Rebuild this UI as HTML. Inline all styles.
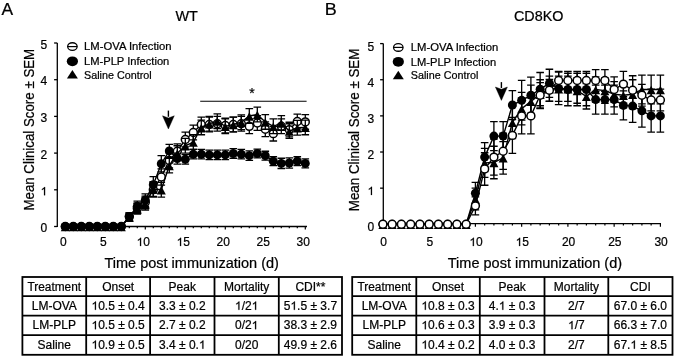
<!DOCTYPE html>
<html><head><meta charset="utf-8"><style>
html,body{margin:0;padding:0;background:#fff;width:675px;height:358px;overflow:hidden}
svg{display:block;will-change:transform;filter:blur(0.3px)}
text{stroke:#000;stroke-width:0.22px}
text{fill:#000}
.h{fill-opacity:0;stroke-opacity:0}
</style></head><body>
<svg width="675" height="358" viewBox="0 0 675 358" font-family='"Liberation Sans", sans-serif'>
<rect width="675" height="358" fill="#fff"/>
<text x="1.5" y="14.7" font-size="16" text-anchor="start" textLength="11.6" lengthAdjust="spacingAndGlyphs">A</text>
<text x="324.8" y="14.8" font-size="16" text-anchor="start" textLength="12.0" lengthAdjust="spacingAndGlyphs">B</text>
<text x="175.4" y="21.2" font-size="14" text-anchor="start" textLength="22.4" lengthAdjust="spacingAndGlyphs">WT</text>
<text x="514.0" y="21.3" font-size="14" text-anchor="start" textLength="49.4" lengthAdjust="spacingAndGlyphs">CD8KO</text>
<text transform="translate(33.6 210.6) rotate(-90)" font-size="14" textLength="161.8" lengthAdjust="spacingAndGlyphs">Mean Clinical Score ± SEM</text>
<text transform="translate(359.4 211.2) rotate(-90)" font-size="14" textLength="162.6" lengthAdjust="spacingAndGlyphs">Mean Clinical Score ± SEM</text>
<text x="104.4" y="268.0" font-size="14" text-anchor="start" textLength="174.5" lengthAdjust="spacingAndGlyphs">Time post immunization (d)</text>
<text x="447.8" y="268.0" font-size="14" text-anchor="start" textLength="174.3" lengthAdjust="spacingAndGlyphs">Time post immunization (d)</text>
<path d="M57.3 43.0V227.1" stroke="#000" stroke-width="1.3" fill="none"/>
<path d="M54.099999999999994 226.50H57.3" stroke="#000" stroke-width="1.3"/>
<text x="47.3" y="232.00" font-size="12" text-anchor="end">0</text>
<path d="M54.099999999999994 189.80H57.3" stroke="#000" stroke-width="1.3"/>
<text x="47.3" y="195.30" font-size="12" text-anchor="end"><tspan class="h">1</tspan></text>
<path d="M54.099999999999994 153.10H57.3" stroke="#000" stroke-width="1.3"/>
<text x="47.3" y="158.60" font-size="12" text-anchor="end">2</text>
<path d="M54.099999999999994 116.40H57.3" stroke="#000" stroke-width="1.3"/>
<text x="47.3" y="121.90" font-size="12" text-anchor="end">3</text>
<path d="M54.099999999999994 79.70H57.3" stroke="#000" stroke-width="1.3"/>
<text x="47.3" y="85.20" font-size="12" text-anchor="end">4</text>
<path d="M54.099999999999994 43.00H57.3" stroke="#000" stroke-width="1.3"/>
<text x="47.3" y="48.50" font-size="12" text-anchor="end">5</text>
<path d="M61.0 226.50H307.0" stroke="#000" stroke-width="1.3" fill="none"/>
<path d="M65.30 226.50V229.50" stroke="#000" stroke-width="1.2"/>
<text x="63.30" y="246.0" font-size="12" text-anchor="middle">0</text>
<path d="M73.30 226.50V228.30" stroke="#000" stroke-width="1.2"/>
<path d="M81.30 226.50V228.30" stroke="#000" stroke-width="1.2"/>
<path d="M89.30 226.50V228.30" stroke="#000" stroke-width="1.2"/>
<path d="M97.30 226.50V228.30" stroke="#000" stroke-width="1.2"/>
<path d="M105.30 226.50V229.50" stroke="#000" stroke-width="1.2"/>
<text x="103.30" y="246.0" font-size="12" text-anchor="middle">5</text>
<path d="M113.30 226.50V228.30" stroke="#000" stroke-width="1.2"/>
<path d="M121.30 226.50V228.30" stroke="#000" stroke-width="1.2"/>
<path d="M129.30 226.50V228.30" stroke="#000" stroke-width="1.2"/>
<path d="M137.30 226.50V228.30" stroke="#000" stroke-width="1.2"/>
<path d="M145.30 226.50V229.50" stroke="#000" stroke-width="1.2"/>
<text x="143.30" y="246.0" font-size="12" text-anchor="middle"><tspan class="h">1</tspan>0</text>
<path d="M153.30 226.50V228.30" stroke="#000" stroke-width="1.2"/>
<path d="M161.30 226.50V228.30" stroke="#000" stroke-width="1.2"/>
<path d="M169.30 226.50V228.30" stroke="#000" stroke-width="1.2"/>
<path d="M177.30 226.50V228.30" stroke="#000" stroke-width="1.2"/>
<path d="M185.30 226.50V229.50" stroke="#000" stroke-width="1.2"/>
<text x="183.30" y="246.0" font-size="12" text-anchor="middle"><tspan class="h">1</tspan>5</text>
<path d="M193.30 226.50V228.30" stroke="#000" stroke-width="1.2"/>
<path d="M201.30 226.50V228.30" stroke="#000" stroke-width="1.2"/>
<path d="M209.30 226.50V228.30" stroke="#000" stroke-width="1.2"/>
<path d="M217.30 226.50V228.30" stroke="#000" stroke-width="1.2"/>
<path d="M225.30 226.50V229.50" stroke="#000" stroke-width="1.2"/>
<text x="223.30" y="246.0" font-size="12" text-anchor="middle">20</text>
<path d="M233.30 226.50V228.30" stroke="#000" stroke-width="1.2"/>
<path d="M241.30 226.50V228.30" stroke="#000" stroke-width="1.2"/>
<path d="M249.30 226.50V228.30" stroke="#000" stroke-width="1.2"/>
<path d="M257.30 226.50V228.30" stroke="#000" stroke-width="1.2"/>
<path d="M265.30 226.50V229.50" stroke="#000" stroke-width="1.2"/>
<text x="263.30" y="246.0" font-size="12" text-anchor="middle">25</text>
<path d="M273.30 226.50V228.30" stroke="#000" stroke-width="1.2"/>
<path d="M281.30 226.50V228.30" stroke="#000" stroke-width="1.2"/>
<path d="M289.30 226.50V228.30" stroke="#000" stroke-width="1.2"/>
<path d="M297.30 226.50V228.30" stroke="#000" stroke-width="1.2"/>
<path d="M305.30 226.50V229.50" stroke="#000" stroke-width="1.2"/>
<text x="303.30" y="246.0" font-size="12" text-anchor="middle">30</text>
<polyline fill="none" stroke="#000" stroke-width="1.4" points="65.30,226.50 73.30,226.50 81.30,226.50 89.30,226.50 97.30,226.50 105.30,226.50 113.30,226.50 121.30,226.50 129.30,216.59 137.30,208.15 145.30,202.28 153.30,189.80 161.30,176.95 169.30,160.44 177.30,151.26 185.30,139.52 193.30,132.55 201.30,124.47 209.30,124.47 217.30,123.74 225.30,125.57 233.30,124.47 241.30,123.74 249.30,126.31 257.30,123.01 265.30,129.25 273.30,133.65 281.30,126.31 289.30,129.61 297.30,121.54 305.30,121.90"/>
<path d="M129.30 212.92V220.26M125.50 212.92H133.10M125.50 220.26H133.10" stroke="#000" stroke-width="1.3" fill="none"/>
<path d="M137.30 203.01V213.29M133.50 203.01H141.10M133.50 213.29H141.10" stroke="#000" stroke-width="1.3" fill="none"/>
<path d="M145.30 196.04V208.52M141.50 196.04H149.10M141.50 208.52H149.10" stroke="#000" stroke-width="1.3" fill="none"/>
<path d="M153.30 182.46V197.14M149.50 182.46H157.10M149.50 197.14H157.10" stroke="#000" stroke-width="1.3" fill="none"/>
<path d="M161.30 168.88V185.03M157.50 168.88H165.10M157.50 185.03H165.10" stroke="#000" stroke-width="1.3" fill="none"/>
<path d="M169.30 153.10V167.78M165.50 153.10H173.10M165.50 167.78H173.10" stroke="#000" stroke-width="1.3" fill="none"/>
<path d="M177.30 143.93V158.61M173.50 143.93H181.10M173.50 158.61H181.10" stroke="#000" stroke-width="1.3" fill="none"/>
<path d="M185.30 132.18V146.86M181.50 132.18H189.10M181.50 146.86H189.10" stroke="#000" stroke-width="1.3" fill="none"/>
<path d="M193.30 125.21V139.89M189.50 125.21H197.10M189.50 139.89H197.10" stroke="#000" stroke-width="1.3" fill="none"/>
<path d="M201.30 117.13V131.81M197.50 117.13H205.10M197.50 131.81H205.10" stroke="#000" stroke-width="1.3" fill="none"/>
<path d="M209.30 117.13V131.81M205.50 117.13H213.10M205.50 131.81H213.10" stroke="#000" stroke-width="1.3" fill="none"/>
<path d="M217.30 116.40V131.08M213.50 116.40H221.10M213.50 131.08H221.10" stroke="#000" stroke-width="1.3" fill="none"/>
<path d="M225.30 118.23V132.92M221.50 118.23H229.10M221.50 132.92H229.10" stroke="#000" stroke-width="1.3" fill="none"/>
<path d="M233.30 117.13V131.81M229.50 117.13H237.10M229.50 131.81H237.10" stroke="#000" stroke-width="1.3" fill="none"/>
<path d="M241.30 116.40V131.08M237.50 116.40H245.10M237.50 131.08H245.10" stroke="#000" stroke-width="1.3" fill="none"/>
<path d="M249.30 118.97V133.65M245.50 118.97H253.10M245.50 133.65H253.10" stroke="#000" stroke-width="1.3" fill="none"/>
<path d="M257.30 115.67V130.35M253.50 115.67H261.10M253.50 130.35H261.10" stroke="#000" stroke-width="1.3" fill="none"/>
<path d="M265.30 121.90V136.59M261.50 121.90H269.10M261.50 136.59H269.10" stroke="#000" stroke-width="1.3" fill="none"/>
<path d="M273.30 126.31V140.99M269.50 126.31H277.10M269.50 140.99H277.10" stroke="#000" stroke-width="1.3" fill="none"/>
<path d="M281.30 118.97V133.65M277.50 118.97H285.10M277.50 133.65H285.10" stroke="#000" stroke-width="1.3" fill="none"/>
<path d="M289.30 122.27V136.95M285.50 122.27H293.10M285.50 136.95H293.10" stroke="#000" stroke-width="1.3" fill="none"/>
<path d="M297.30 114.20V128.88M293.50 114.20H301.10M293.50 128.88H301.10" stroke="#000" stroke-width="1.3" fill="none"/>
<path d="M305.30 114.56V129.25M301.50 114.56H309.10M301.50 129.25H309.10" stroke="#000" stroke-width="1.3" fill="none"/>
<circle cx="65.30" cy="226.50" r="3.95" fill="#fff" stroke="#000" stroke-width="1.5"/>
<circle cx="73.30" cy="226.50" r="3.95" fill="#fff" stroke="#000" stroke-width="1.5"/>
<circle cx="81.30" cy="226.50" r="3.95" fill="#fff" stroke="#000" stroke-width="1.5"/>
<circle cx="89.30" cy="226.50" r="3.95" fill="#fff" stroke="#000" stroke-width="1.5"/>
<circle cx="97.30" cy="226.50" r="3.95" fill="#fff" stroke="#000" stroke-width="1.5"/>
<circle cx="105.30" cy="226.50" r="3.95" fill="#fff" stroke="#000" stroke-width="1.5"/>
<circle cx="113.30" cy="226.50" r="3.95" fill="#fff" stroke="#000" stroke-width="1.5"/>
<circle cx="121.30" cy="226.50" r="3.95" fill="#fff" stroke="#000" stroke-width="1.5"/>
<circle cx="129.30" cy="216.59" r="3.95" fill="#fff" stroke="#000" stroke-width="1.5"/>
<circle cx="137.30" cy="208.15" r="3.95" fill="#fff" stroke="#000" stroke-width="1.5"/>
<circle cx="145.30" cy="202.28" r="3.95" fill="#fff" stroke="#000" stroke-width="1.5"/>
<circle cx="153.30" cy="189.80" r="3.95" fill="#fff" stroke="#000" stroke-width="1.5"/>
<circle cx="161.30" cy="176.95" r="3.95" fill="#fff" stroke="#000" stroke-width="1.5"/>
<circle cx="169.30" cy="160.44" r="3.95" fill="#fff" stroke="#000" stroke-width="1.5"/>
<circle cx="177.30" cy="151.26" r="3.95" fill="#fff" stroke="#000" stroke-width="1.5"/>
<circle cx="185.30" cy="139.52" r="3.95" fill="#fff" stroke="#000" stroke-width="1.5"/>
<circle cx="193.30" cy="132.55" r="3.95" fill="#fff" stroke="#000" stroke-width="1.5"/>
<circle cx="201.30" cy="124.47" r="3.95" fill="#fff" stroke="#000" stroke-width="1.5"/>
<circle cx="209.30" cy="124.47" r="3.95" fill="#fff" stroke="#000" stroke-width="1.5"/>
<circle cx="217.30" cy="123.74" r="3.95" fill="#fff" stroke="#000" stroke-width="1.5"/>
<circle cx="225.30" cy="125.57" r="3.95" fill="#fff" stroke="#000" stroke-width="1.5"/>
<circle cx="233.30" cy="124.47" r="3.95" fill="#fff" stroke="#000" stroke-width="1.5"/>
<circle cx="241.30" cy="123.74" r="3.95" fill="#fff" stroke="#000" stroke-width="1.5"/>
<circle cx="249.30" cy="126.31" r="3.95" fill="#fff" stroke="#000" stroke-width="1.5"/>
<circle cx="257.30" cy="123.01" r="3.95" fill="#fff" stroke="#000" stroke-width="1.5"/>
<circle cx="265.30" cy="129.25" r="3.95" fill="#fff" stroke="#000" stroke-width="1.5"/>
<circle cx="273.30" cy="133.65" r="3.95" fill="#fff" stroke="#000" stroke-width="1.5"/>
<circle cx="281.30" cy="126.31" r="3.95" fill="#fff" stroke="#000" stroke-width="1.5"/>
<circle cx="289.30" cy="129.61" r="3.95" fill="#fff" stroke="#000" stroke-width="1.5"/>
<circle cx="297.30" cy="121.54" r="3.95" fill="#fff" stroke="#000" stroke-width="1.5"/>
<circle cx="305.30" cy="121.90" r="3.95" fill="#fff" stroke="#000" stroke-width="1.5"/>
<polyline fill="none" stroke="#000" stroke-width="1.4" points="65.30,226.50 73.30,226.50 81.30,226.50 89.30,226.50 97.30,226.50 105.30,226.50 113.30,226.50 121.30,226.50 129.30,217.32 137.30,208.88 145.30,203.75 153.30,189.07 161.30,189.80 169.30,165.58 177.30,153.10 185.30,145.76 193.30,142.09 201.30,127.41 209.30,123.74 217.30,121.17 225.30,126.31 233.30,124.47 241.30,122.27 249.30,116.03 257.30,114.56 265.30,121.90 273.30,126.31 281.30,123.01 289.30,131.08 297.30,127.78 305.30,127.41"/>
<path d="M129.30 213.66V221.00M125.50 213.66H133.10M125.50 221.00H133.10" stroke="#000" stroke-width="1.3" fill="none"/>
<path d="M137.30 203.75V214.02M133.50 203.75H141.10M133.50 214.02H141.10" stroke="#000" stroke-width="1.3" fill="none"/>
<path d="M145.30 197.51V209.99M141.50 197.51H149.10M141.50 209.99H149.10" stroke="#000" stroke-width="1.3" fill="none"/>
<path d="M153.30 181.73V196.41M149.50 181.73H157.10M149.50 196.41H157.10" stroke="#000" stroke-width="1.3" fill="none"/>
<path d="M161.30 182.46V197.14M157.50 182.46H165.10M157.50 197.14H165.10" stroke="#000" stroke-width="1.3" fill="none"/>
<path d="M169.30 158.24V172.92M165.50 158.24H173.10M165.50 172.92H173.10" stroke="#000" stroke-width="1.3" fill="none"/>
<path d="M177.30 145.76V160.44M173.50 145.76H181.10M173.50 160.44H181.10" stroke="#000" stroke-width="1.3" fill="none"/>
<path d="M185.30 138.42V153.10M181.50 138.42H189.10M181.50 153.10H189.10" stroke="#000" stroke-width="1.3" fill="none"/>
<path d="M193.30 134.75V149.43M189.50 134.75H197.10M189.50 149.43H197.10" stroke="#000" stroke-width="1.3" fill="none"/>
<path d="M201.30 120.07V134.75M197.50 120.07H205.10M197.50 134.75H205.10" stroke="#000" stroke-width="1.3" fill="none"/>
<path d="M209.30 116.40V131.08M205.50 116.40H213.10M205.50 131.08H213.10" stroke="#000" stroke-width="1.3" fill="none"/>
<path d="M217.30 113.83V128.51M213.50 113.83H221.10M213.50 128.51H221.10" stroke="#000" stroke-width="1.3" fill="none"/>
<path d="M225.30 118.97V133.65M221.50 118.97H229.10M221.50 133.65H229.10" stroke="#000" stroke-width="1.3" fill="none"/>
<path d="M233.30 117.13V131.81M229.50 117.13H237.10M229.50 131.81H237.10" stroke="#000" stroke-width="1.3" fill="none"/>
<path d="M241.30 114.93V129.61M237.50 114.93H245.10M237.50 129.61H245.10" stroke="#000" stroke-width="1.3" fill="none"/>
<path d="M249.30 108.69V123.37M245.50 108.69H253.10M245.50 123.37H253.10" stroke="#000" stroke-width="1.3" fill="none"/>
<path d="M257.30 107.22V121.91M253.50 107.22H261.10M253.50 121.91H261.10" stroke="#000" stroke-width="1.3" fill="none"/>
<path d="M265.30 114.56V129.25M261.50 114.56H269.10M261.50 129.25H269.10" stroke="#000" stroke-width="1.3" fill="none"/>
<path d="M273.30 118.97V133.65M269.50 118.97H277.10M269.50 133.65H277.10" stroke="#000" stroke-width="1.3" fill="none"/>
<path d="M281.30 115.67V130.35M277.50 115.67H285.10M277.50 130.35H285.10" stroke="#000" stroke-width="1.3" fill="none"/>
<path d="M289.30 123.74V138.42M285.50 123.74H293.10M285.50 138.42H293.10" stroke="#000" stroke-width="1.3" fill="none"/>
<path d="M297.30 120.44V135.12M293.50 120.44H301.10M293.50 135.12H301.10" stroke="#000" stroke-width="1.3" fill="none"/>
<path d="M305.30 120.07V134.75M301.50 120.07H309.10M301.50 134.75H309.10" stroke="#000" stroke-width="1.3" fill="none"/>
<path d="M65.30 222.80L69.80 231.20L60.80 231.20Z" fill="#000"/>
<path d="M73.30 222.80L77.80 231.20L68.80 231.20Z" fill="#000"/>
<path d="M81.30 222.80L85.80 231.20L76.80 231.20Z" fill="#000"/>
<path d="M89.30 222.80L93.80 231.20L84.80 231.20Z" fill="#000"/>
<path d="M97.30 222.80L101.80 231.20L92.80 231.20Z" fill="#000"/>
<path d="M105.30 222.80L109.80 231.20L100.80 231.20Z" fill="#000"/>
<path d="M113.30 222.80L117.80 231.20L108.80 231.20Z" fill="#000"/>
<path d="M121.30 222.80L125.80 231.20L116.80 231.20Z" fill="#000"/>
<path d="M129.30 213.62L133.80 222.02L124.80 222.02Z" fill="#000"/>
<path d="M137.30 205.18L141.80 213.58L132.80 213.58Z" fill="#000"/>
<path d="M145.30 200.05L149.80 208.45L140.80 208.45Z" fill="#000"/>
<path d="M153.30 185.37L157.80 193.77L148.80 193.77Z" fill="#000"/>
<path d="M161.30 186.10L165.80 194.50L156.80 194.50Z" fill="#000"/>
<path d="M169.30 161.88L173.80 170.28L164.80 170.28Z" fill="#000"/>
<path d="M177.30 149.40L181.80 157.80L172.80 157.80Z" fill="#000"/>
<path d="M185.30 142.06L189.80 150.46L180.80 150.46Z" fill="#000"/>
<path d="M193.30 138.39L197.80 146.79L188.80 146.79Z" fill="#000"/>
<path d="M201.30 123.71L205.80 132.11L196.80 132.11Z" fill="#000"/>
<path d="M209.30 120.04L213.80 128.44L204.80 128.44Z" fill="#000"/>
<path d="M217.30 117.47L221.80 125.87L212.80 125.87Z" fill="#000"/>
<path d="M225.30 122.61L229.80 131.01L220.80 131.01Z" fill="#000"/>
<path d="M233.30 120.77L237.80 129.17L228.80 129.17Z" fill="#000"/>
<path d="M241.30 118.57L245.80 126.97L236.80 126.97Z" fill="#000"/>
<path d="M249.30 112.33L253.80 120.73L244.80 120.73Z" fill="#000"/>
<path d="M257.30 110.86L261.80 119.27L252.80 119.27Z" fill="#000"/>
<path d="M265.30 118.20L269.80 126.60L260.80 126.60Z" fill="#000"/>
<path d="M273.30 122.61L277.80 131.01L268.80 131.01Z" fill="#000"/>
<path d="M281.30 119.31L285.80 127.71L276.80 127.71Z" fill="#000"/>
<path d="M289.30 127.38L293.80 135.78L284.80 135.78Z" fill="#000"/>
<path d="M297.30 124.08L301.80 132.48L292.80 132.48Z" fill="#000"/>
<path d="M305.30 123.71L309.80 132.11L300.80 132.11Z" fill="#000"/>
<polyline fill="none" stroke="#000" stroke-width="1.4" points="65.30,226.50 73.30,226.50 81.30,226.50 89.30,226.50 97.30,226.50 105.30,226.50 113.30,226.50 121.30,226.50 129.30,216.59 137.30,206.31 145.30,200.08 153.30,184.66 161.30,163.74 169.30,150.90 177.30,158.60 185.30,159.34 193.30,154.20 201.30,154.20 209.30,154.94 217.30,154.94 225.30,154.94 233.30,153.47 241.30,154.20 249.30,155.67 257.30,153.47 265.30,155.67 273.30,161.17 281.30,163.38 289.30,163.01 297.30,161.17 305.30,163.38"/>
<path d="M129.30 212.92V220.26M125.50 212.92H133.10M125.50 220.26H133.10" stroke="#000" stroke-width="1.3" fill="none"/>
<path d="M137.30 201.18V211.45M133.50 201.18H141.10M133.50 211.45H141.10" stroke="#000" stroke-width="1.3" fill="none"/>
<path d="M145.30 193.84V206.31M141.50 193.84H149.10M141.50 206.31H149.10" stroke="#000" stroke-width="1.3" fill="none"/>
<path d="M153.30 176.59V192.74M149.50 176.59H157.10M149.50 192.74H157.10" stroke="#000" stroke-width="1.3" fill="none"/>
<path d="M161.30 155.67V171.82M157.50 155.67H165.10M157.50 171.82H165.10" stroke="#000" stroke-width="1.3" fill="none"/>
<path d="M169.30 144.29V157.50M165.50 144.29H173.10M165.50 157.50H173.10" stroke="#000" stroke-width="1.3" fill="none"/>
<path d="M177.30 153.10V164.11M173.50 153.10H181.10M173.50 164.11H181.10" stroke="#000" stroke-width="1.3" fill="none"/>
<path d="M185.30 154.57V164.11M181.50 154.57H189.10M181.50 164.11H189.10" stroke="#000" stroke-width="1.3" fill="none"/>
<path d="M193.30 149.43V158.97M189.50 149.43H197.10M189.50 158.97H197.10" stroke="#000" stroke-width="1.3" fill="none"/>
<path d="M201.30 149.43V158.97M197.50 149.43H205.10M197.50 158.97H205.10" stroke="#000" stroke-width="1.3" fill="none"/>
<path d="M209.30 150.16V159.71M205.50 150.16H213.10M205.50 159.71H213.10" stroke="#000" stroke-width="1.3" fill="none"/>
<path d="M217.30 150.16V159.71M213.50 150.16H221.10M213.50 159.71H221.10" stroke="#000" stroke-width="1.3" fill="none"/>
<path d="M225.30 150.16V159.71M221.50 150.16H229.10M221.50 159.71H229.10" stroke="#000" stroke-width="1.3" fill="none"/>
<path d="M233.30 148.70V158.24M229.50 148.70H237.10M229.50 158.24H237.10" stroke="#000" stroke-width="1.3" fill="none"/>
<path d="M241.30 149.43V158.97M237.50 149.43H245.10M237.50 158.97H245.10" stroke="#000" stroke-width="1.3" fill="none"/>
<path d="M249.30 150.90V160.44M245.50 150.90H253.10M245.50 160.44H253.10" stroke="#000" stroke-width="1.3" fill="none"/>
<path d="M257.30 149.06V157.87M253.50 149.06H261.10M253.50 157.87H261.10" stroke="#000" stroke-width="1.3" fill="none"/>
<path d="M265.30 151.26V160.07M261.50 151.26H269.10M261.50 160.07H269.10" stroke="#000" stroke-width="1.3" fill="none"/>
<path d="M273.30 156.77V165.58M269.50 156.77H277.10M269.50 165.58H277.10" stroke="#000" stroke-width="1.3" fill="none"/>
<path d="M281.30 158.24V168.51M277.50 158.24H285.10M277.50 168.51H285.10" stroke="#000" stroke-width="1.3" fill="none"/>
<path d="M289.30 157.87V168.15M285.50 157.87H293.10M285.50 168.15H293.10" stroke="#000" stroke-width="1.3" fill="none"/>
<path d="M297.30 156.77V165.58M293.50 156.77H301.10M293.50 165.58H301.10" stroke="#000" stroke-width="1.3" fill="none"/>
<path d="M305.30 158.97V167.78M301.50 158.97H309.10M301.50 167.78H309.10" stroke="#000" stroke-width="1.3" fill="none"/>
<circle cx="65.30" cy="226.50" r="4.50" fill="#000"/>
<circle cx="73.30" cy="226.50" r="4.50" fill="#000"/>
<circle cx="81.30" cy="226.50" r="4.50" fill="#000"/>
<circle cx="89.30" cy="226.50" r="4.50" fill="#000"/>
<circle cx="97.30" cy="226.50" r="4.50" fill="#000"/>
<circle cx="105.30" cy="226.50" r="4.50" fill="#000"/>
<circle cx="113.30" cy="226.50" r="4.50" fill="#000"/>
<circle cx="121.30" cy="226.50" r="4.50" fill="#000"/>
<circle cx="129.30" cy="216.59" r="4.50" fill="#000"/>
<circle cx="137.30" cy="206.31" r="4.50" fill="#000"/>
<circle cx="145.30" cy="200.08" r="4.50" fill="#000"/>
<circle cx="153.30" cy="184.66" r="4.50" fill="#000"/>
<circle cx="161.30" cy="163.74" r="4.50" fill="#000"/>
<circle cx="169.30" cy="150.90" r="4.50" fill="#000"/>
<circle cx="177.30" cy="158.60" r="4.50" fill="#000"/>
<circle cx="185.30" cy="159.34" r="4.50" fill="#000"/>
<circle cx="193.30" cy="154.20" r="4.50" fill="#000"/>
<circle cx="201.30" cy="154.20" r="4.50" fill="#000"/>
<circle cx="209.30" cy="154.94" r="4.50" fill="#000"/>
<circle cx="217.30" cy="154.94" r="4.50" fill="#000"/>
<circle cx="225.30" cy="154.94" r="4.50" fill="#000"/>
<circle cx="233.30" cy="153.47" r="4.50" fill="#000"/>
<circle cx="241.30" cy="154.20" r="4.50" fill="#000"/>
<circle cx="249.30" cy="155.67" r="4.50" fill="#000"/>
<circle cx="257.30" cy="153.47" r="4.50" fill="#000"/>
<circle cx="265.30" cy="155.67" r="4.50" fill="#000"/>
<circle cx="273.30" cy="161.17" r="4.50" fill="#000"/>
<circle cx="281.30" cy="163.38" r="4.50" fill="#000"/>
<circle cx="289.30" cy="163.01" r="4.50" fill="#000"/>
<circle cx="297.30" cy="161.17" r="4.50" fill="#000"/>
<circle cx="305.30" cy="163.38" r="4.50" fill="#000"/>
<path d="M383.3 43.6V224.9" stroke="#000" stroke-width="1.3" fill="none"/>
<path d="M380.1 224.30H383.3" stroke="#000" stroke-width="1.3"/>
<text x="374.2" y="231.00" font-size="12" text-anchor="end">0</text>
<path d="M380.1 188.16H383.3" stroke="#000" stroke-width="1.3"/>
<text x="374.2" y="195.02" font-size="12" text-anchor="end"><tspan class="h">1</tspan></text>
<path d="M380.1 152.02H383.3" stroke="#000" stroke-width="1.3"/>
<text x="374.2" y="159.04" font-size="12" text-anchor="end">2</text>
<path d="M380.1 115.88H383.3" stroke="#000" stroke-width="1.3"/>
<text x="374.2" y="123.06" font-size="12" text-anchor="end">3</text>
<path d="M380.1 79.74H383.3" stroke="#000" stroke-width="1.3"/>
<text x="374.2" y="87.08" font-size="12" text-anchor="end">4</text>
<path d="M380.1 43.60H383.3" stroke="#000" stroke-width="1.3"/>
<text x="374.2" y="51.10" font-size="12" text-anchor="end">5</text>
<path d="M383.0 223.70H661.0" stroke="#000" stroke-width="1.3" fill="none"/>
<path d="M382.90 223.70V226.70" stroke="#000" stroke-width="1.2"/>
<text x="383.60" y="246.0" font-size="12" text-anchor="middle">0</text>
<path d="M392.15 223.70V225.50" stroke="#000" stroke-width="1.2"/>
<path d="M401.40 223.70V225.50" stroke="#000" stroke-width="1.2"/>
<path d="M410.65 223.70V225.50" stroke="#000" stroke-width="1.2"/>
<path d="M419.90 223.70V225.50" stroke="#000" stroke-width="1.2"/>
<path d="M429.15 223.70V226.70" stroke="#000" stroke-width="1.2"/>
<text x="429.85" y="246.0" font-size="12" text-anchor="middle">5</text>
<path d="M438.40 223.70V225.50" stroke="#000" stroke-width="1.2"/>
<path d="M447.65 223.70V225.50" stroke="#000" stroke-width="1.2"/>
<path d="M456.90 223.70V225.50" stroke="#000" stroke-width="1.2"/>
<path d="M466.15 223.70V225.50" stroke="#000" stroke-width="1.2"/>
<path d="M475.40 223.70V226.70" stroke="#000" stroke-width="1.2"/>
<text x="476.10" y="246.0" font-size="12" text-anchor="middle"><tspan class="h">1</tspan>0</text>
<path d="M484.65 223.70V225.50" stroke="#000" stroke-width="1.2"/>
<path d="M493.90 223.70V225.50" stroke="#000" stroke-width="1.2"/>
<path d="M503.15 223.70V225.50" stroke="#000" stroke-width="1.2"/>
<path d="M512.40 223.70V225.50" stroke="#000" stroke-width="1.2"/>
<path d="M521.65 223.70V226.70" stroke="#000" stroke-width="1.2"/>
<text x="522.35" y="246.0" font-size="12" text-anchor="middle"><tspan class="h">1</tspan>5</text>
<path d="M530.90 223.70V225.50" stroke="#000" stroke-width="1.2"/>
<path d="M540.15 223.70V225.50" stroke="#000" stroke-width="1.2"/>
<path d="M549.40 223.70V225.50" stroke="#000" stroke-width="1.2"/>
<path d="M558.65 223.70V225.50" stroke="#000" stroke-width="1.2"/>
<path d="M567.90 223.70V226.70" stroke="#000" stroke-width="1.2"/>
<text x="568.60" y="246.0" font-size="12" text-anchor="middle">20</text>
<path d="M577.15 223.70V225.50" stroke="#000" stroke-width="1.2"/>
<path d="M586.40 223.70V225.50" stroke="#000" stroke-width="1.2"/>
<path d="M595.65 223.70V225.50" stroke="#000" stroke-width="1.2"/>
<path d="M604.90 223.70V225.50" stroke="#000" stroke-width="1.2"/>
<path d="M614.15 223.70V226.70" stroke="#000" stroke-width="1.2"/>
<text x="614.85" y="246.0" font-size="12" text-anchor="middle">25</text>
<path d="M623.40 223.70V225.50" stroke="#000" stroke-width="1.2"/>
<path d="M632.65 223.70V225.50" stroke="#000" stroke-width="1.2"/>
<path d="M641.90 223.70V225.50" stroke="#000" stroke-width="1.2"/>
<path d="M651.15 223.70V225.50" stroke="#000" stroke-width="1.2"/>
<path d="M660.40 223.70V226.70" stroke="#000" stroke-width="1.2"/>
<text x="661.10" y="246.0" font-size="12" text-anchor="middle">30</text>
<polyline fill="none" stroke="#000" stroke-width="1.4" points="382.90,224.30 392.15,224.30 401.40,224.30 410.65,224.30 419.90,224.30 429.15,224.30 438.40,224.30 447.65,224.30 456.90,224.30 466.15,224.30 475.40,199.00 484.65,162.86 493.90,162.50 503.15,157.80 512.40,122.39 521.65,108.65 530.90,101.42 540.15,94.20 549.40,88.78 558.65,88.78 567.90,88.78 577.15,90.58 586.40,96.36 595.65,89.50 604.90,90.58 614.15,94.20 623.40,95.28 632.65,94.20 641.90,89.50 651.15,89.50 660.40,89.50"/>
<path d="M475.40 188.16V209.84M471.60 188.16H479.20M471.60 209.84H479.20" stroke="#000" stroke-width="1.3" fill="none"/>
<path d="M484.65 148.41V177.32M480.85 148.41H488.45M480.85 177.32H488.45" stroke="#000" stroke-width="1.3" fill="none"/>
<path d="M493.90 146.24V178.76M490.10 146.24H497.70M490.10 178.76H497.70" stroke="#000" stroke-width="1.3" fill="none"/>
<path d="M503.15 141.54V174.07M499.35 141.54H506.95M499.35 174.07H506.95" stroke="#000" stroke-width="1.3" fill="none"/>
<path d="M512.40 106.12V138.65M508.60 106.12H516.20M508.60 138.65H516.20" stroke="#000" stroke-width="1.3" fill="none"/>
<path d="M521.65 92.39V124.92M517.85 92.39H525.45M517.85 124.92H525.45" stroke="#000" stroke-width="1.3" fill="none"/>
<path d="M530.90 85.16V117.69M527.10 85.16H534.70M527.10 117.69H534.70" stroke="#000" stroke-width="1.3" fill="none"/>
<path d="M540.15 79.74V108.65M536.35 79.74H543.95M536.35 108.65H543.95" stroke="#000" stroke-width="1.3" fill="none"/>
<path d="M549.40 76.13V101.42M545.60 76.13H553.20M545.60 101.42H553.20" stroke="#000" stroke-width="1.3" fill="none"/>
<path d="M558.65 76.13V101.42M554.85 76.13H562.45M554.85 101.42H562.45" stroke="#000" stroke-width="1.3" fill="none"/>
<path d="M567.90 76.13V101.42M564.10 76.13H571.70M564.10 101.42H571.70" stroke="#000" stroke-width="1.3" fill="none"/>
<path d="M577.15 77.93V103.23M573.35 77.93H580.95M573.35 103.23H580.95" stroke="#000" stroke-width="1.3" fill="none"/>
<path d="M586.40 83.72V109.01M582.60 83.72H590.20M582.60 109.01H590.20" stroke="#000" stroke-width="1.3" fill="none"/>
<path d="M595.65 76.85V102.15M591.85 76.85H599.45M591.85 102.15H599.45" stroke="#000" stroke-width="1.3" fill="none"/>
<path d="M604.90 77.93V103.23M601.10 77.93H608.70M601.10 103.23H608.70" stroke="#000" stroke-width="1.3" fill="none"/>
<path d="M614.15 81.55V106.85M610.35 81.55H617.95M610.35 106.85H617.95" stroke="#000" stroke-width="1.3" fill="none"/>
<path d="M623.40 82.63V107.93M619.60 82.63H627.20M619.60 107.93H627.20" stroke="#000" stroke-width="1.3" fill="none"/>
<path d="M632.65 79.74V108.65M628.85 79.74H636.45M628.85 108.65H636.45" stroke="#000" stroke-width="1.3" fill="none"/>
<path d="M641.90 75.04V103.95M638.10 75.04H645.70M638.10 103.95H645.70" stroke="#000" stroke-width="1.3" fill="none"/>
<path d="M651.15 75.04V103.95M647.35 75.04H654.95M647.35 103.95H654.95" stroke="#000" stroke-width="1.3" fill="none"/>
<path d="M660.40 75.04V103.95M656.60 75.04H664.20M656.60 103.95H664.20" stroke="#000" stroke-width="1.3" fill="none"/>
<path d="M382.90 220.60L387.40 229.00L378.40 229.00Z" fill="#000"/>
<path d="M392.15 220.60L396.65 229.00L387.65 229.00Z" fill="#000"/>
<path d="M401.40 220.60L405.90 229.00L396.90 229.00Z" fill="#000"/>
<path d="M410.65 220.60L415.15 229.00L406.15 229.00Z" fill="#000"/>
<path d="M419.90 220.60L424.40 229.00L415.40 229.00Z" fill="#000"/>
<path d="M429.15 220.60L433.65 229.00L424.65 229.00Z" fill="#000"/>
<path d="M438.40 220.60L442.90 229.00L433.90 229.00Z" fill="#000"/>
<path d="M447.65 220.60L452.15 229.00L443.15 229.00Z" fill="#000"/>
<path d="M456.90 220.60L461.40 229.00L452.40 229.00Z" fill="#000"/>
<path d="M466.15 220.60L470.65 229.00L461.65 229.00Z" fill="#000"/>
<path d="M475.40 195.30L479.90 203.70L470.90 203.70Z" fill="#000"/>
<path d="M484.65 159.16L489.15 167.56L480.15 167.56Z" fill="#000"/>
<path d="M493.90 158.80L498.40 167.20L489.40 167.20Z" fill="#000"/>
<path d="M503.15 154.10L507.65 162.50L498.65 162.50Z" fill="#000"/>
<path d="M512.40 118.69L516.90 127.09L507.90 127.09Z" fill="#000"/>
<path d="M521.65 104.95L526.15 113.35L517.15 113.35Z" fill="#000"/>
<path d="M530.90 97.72L535.40 106.12L526.40 106.12Z" fill="#000"/>
<path d="M540.15 90.50L544.65 98.90L535.65 98.90Z" fill="#000"/>
<path d="M549.40 85.08L553.90 93.48L544.90 93.48Z" fill="#000"/>
<path d="M558.65 85.08L563.15 93.48L554.15 93.48Z" fill="#000"/>
<path d="M567.90 85.08L572.40 93.48L563.40 93.48Z" fill="#000"/>
<path d="M577.15 86.88L581.65 95.28L572.65 95.28Z" fill="#000"/>
<path d="M586.40 92.66L590.90 101.06L581.90 101.06Z" fill="#000"/>
<path d="M595.65 85.80L600.15 94.20L591.15 94.20Z" fill="#000"/>
<path d="M604.90 86.88L609.40 95.28L600.40 95.28Z" fill="#000"/>
<path d="M614.15 90.50L618.65 98.90L609.65 98.90Z" fill="#000"/>
<path d="M623.40 91.58L627.90 99.98L618.90 99.98Z" fill="#000"/>
<path d="M632.65 90.50L637.15 98.90L628.15 98.90Z" fill="#000"/>
<path d="M641.90 85.80L646.40 94.20L637.40 94.20Z" fill="#000"/>
<path d="M651.15 85.80L655.65 94.20L646.65 94.20Z" fill="#000"/>
<path d="M660.40 85.80L664.90 94.20L655.90 94.20Z" fill="#000"/>
<polyline fill="none" stroke="#000" stroke-width="1.4" points="382.90,224.30 392.15,224.30 401.40,224.30 410.65,224.30 419.90,224.30 429.15,224.30 438.40,224.30 447.65,224.30 456.90,224.30 466.15,224.30 475.40,193.22 484.65,157.08 493.90,136.12 503.15,136.12 512.40,105.04 521.65,100.34 530.90,95.28 540.15,89.14 549.40,83.35 558.65,88.41 567.90,89.50 577.15,89.50 586.40,89.50 595.65,99.62 604.90,99.62 614.15,99.62 623.40,105.40 632.65,106.12 641.90,110.82 651.15,115.88 660.40,115.88"/>
<path d="M475.40 182.38V204.06M471.60 182.38H479.20M471.60 204.06H479.20" stroke="#000" stroke-width="1.3" fill="none"/>
<path d="M484.65 142.62V171.54M480.85 142.62H488.45M480.85 171.54H488.45" stroke="#000" stroke-width="1.3" fill="none"/>
<path d="M493.90 121.66V150.57M490.10 121.66H497.70M490.10 150.57H497.70" stroke="#000" stroke-width="1.3" fill="none"/>
<path d="M503.15 121.66V150.57M499.35 121.66H506.95M499.35 150.57H506.95" stroke="#000" stroke-width="1.3" fill="none"/>
<path d="M512.40 90.58V119.49M508.60 90.58H516.20M508.60 119.49H516.20" stroke="#000" stroke-width="1.3" fill="none"/>
<path d="M521.65 80.46V120.22M517.85 80.46H525.45M517.85 120.22H525.45" stroke="#000" stroke-width="1.3" fill="none"/>
<path d="M530.90 77.21V113.35M527.10 77.21H534.70M527.10 113.35H534.70" stroke="#000" stroke-width="1.3" fill="none"/>
<path d="M540.15 72.51V105.76M536.35 72.51H543.95M536.35 105.76H543.95" stroke="#000" stroke-width="1.3" fill="none"/>
<path d="M549.40 69.26V97.45M545.60 69.26H553.20M545.60 97.45H553.20" stroke="#000" stroke-width="1.3" fill="none"/>
<path d="M558.65 72.15V104.68M554.85 72.15H562.45M554.85 104.68H562.45" stroke="#000" stroke-width="1.3" fill="none"/>
<path d="M567.90 73.23V105.76M564.10 73.23H571.70M564.10 105.76H571.70" stroke="#000" stroke-width="1.3" fill="none"/>
<path d="M577.15 73.23V105.76M573.35 73.23H580.95M573.35 105.76H580.95" stroke="#000" stroke-width="1.3" fill="none"/>
<path d="M586.40 73.23V105.76M582.60 73.23H590.20M582.60 105.76H590.20" stroke="#000" stroke-width="1.3" fill="none"/>
<path d="M595.65 85.16V114.07M591.85 85.16H599.45M591.85 114.07H599.45" stroke="#000" stroke-width="1.3" fill="none"/>
<path d="M604.90 85.16V114.07M601.10 85.16H608.70M601.10 114.07H608.70" stroke="#000" stroke-width="1.3" fill="none"/>
<path d="M614.15 85.16V114.07M610.35 85.16H617.95M610.35 114.07H617.95" stroke="#000" stroke-width="1.3" fill="none"/>
<path d="M623.40 90.94V119.86M619.60 90.94H627.20M619.60 119.86H627.20" stroke="#000" stroke-width="1.3" fill="none"/>
<path d="M632.65 89.86V122.39M628.85 89.86H636.45M628.85 122.39H636.45" stroke="#000" stroke-width="1.3" fill="none"/>
<path d="M641.90 94.56V127.08M638.10 94.56H645.70M638.10 127.08H645.70" stroke="#000" stroke-width="1.3" fill="none"/>
<path d="M651.15 99.62V132.14M647.35 99.62H654.95M647.35 132.14H654.95" stroke="#000" stroke-width="1.3" fill="none"/>
<path d="M660.40 99.62V132.14M656.60 99.62H664.20M656.60 132.14H664.20" stroke="#000" stroke-width="1.3" fill="none"/>
<circle cx="382.90" cy="224.30" r="4.50" fill="#000"/>
<circle cx="392.15" cy="224.30" r="4.50" fill="#000"/>
<circle cx="401.40" cy="224.30" r="4.50" fill="#000"/>
<circle cx="410.65" cy="224.30" r="4.50" fill="#000"/>
<circle cx="419.90" cy="224.30" r="4.50" fill="#000"/>
<circle cx="429.15" cy="224.30" r="4.50" fill="#000"/>
<circle cx="438.40" cy="224.30" r="4.50" fill="#000"/>
<circle cx="447.65" cy="224.30" r="4.50" fill="#000"/>
<circle cx="456.90" cy="224.30" r="4.50" fill="#000"/>
<circle cx="466.15" cy="224.30" r="4.50" fill="#000"/>
<circle cx="475.40" cy="193.22" r="4.50" fill="#000"/>
<circle cx="484.65" cy="157.08" r="4.50" fill="#000"/>
<circle cx="493.90" cy="136.12" r="4.50" fill="#000"/>
<circle cx="503.15" cy="136.12" r="4.50" fill="#000"/>
<circle cx="512.40" cy="105.04" r="4.50" fill="#000"/>
<circle cx="521.65" cy="100.34" r="4.50" fill="#000"/>
<circle cx="530.90" cy="95.28" r="4.50" fill="#000"/>
<circle cx="540.15" cy="89.14" r="4.50" fill="#000"/>
<circle cx="549.40" cy="83.35" r="4.50" fill="#000"/>
<circle cx="558.65" cy="88.41" r="4.50" fill="#000"/>
<circle cx="567.90" cy="89.50" r="4.50" fill="#000"/>
<circle cx="577.15" cy="89.50" r="4.50" fill="#000"/>
<circle cx="586.40" cy="89.50" r="4.50" fill="#000"/>
<circle cx="595.65" cy="99.62" r="4.50" fill="#000"/>
<circle cx="604.90" cy="99.62" r="4.50" fill="#000"/>
<circle cx="614.15" cy="99.62" r="4.50" fill="#000"/>
<circle cx="623.40" cy="105.40" r="4.50" fill="#000"/>
<circle cx="632.65" cy="106.12" r="4.50" fill="#000"/>
<circle cx="641.90" cy="110.82" r="4.50" fill="#000"/>
<circle cx="651.15" cy="115.88" r="4.50" fill="#000"/>
<circle cx="660.40" cy="115.88" r="4.50" fill="#000"/>
<polyline fill="none" stroke="#000" stroke-width="1.4" points="382.90,224.30 392.15,224.30 401.40,224.30 410.65,224.30 419.90,224.30 429.15,224.30 438.40,224.30 447.65,224.30 456.90,224.30 466.15,224.30 475.40,205.87 484.65,169.01 493.90,157.08 503.15,151.30 512.40,135.40 521.65,115.88 530.90,115.88 540.15,95.28 549.40,90.22 558.65,80.46 567.90,80.46 577.15,80.46 586.40,80.46 595.65,80.46 604.90,80.46 614.15,89.50 623.40,84.08 632.65,90.22 641.90,95.28 651.15,99.98 660.40,99.98"/>
<path d="M475.40 196.83V214.90M471.60 196.83H479.20M471.60 214.90H479.20" stroke="#000" stroke-width="1.3" fill="none"/>
<path d="M484.65 152.74V185.27M480.85 152.74H488.45M480.85 185.27H488.45" stroke="#000" stroke-width="1.3" fill="none"/>
<path d="M493.90 139.01V175.15M490.10 139.01H497.70M490.10 175.15H497.70" stroke="#000" stroke-width="1.3" fill="none"/>
<path d="M503.15 133.23V169.37M499.35 133.23H506.95M499.35 169.37H506.95" stroke="#000" stroke-width="1.3" fill="none"/>
<path d="M512.40 117.33V153.47M508.60 117.33H516.20M508.60 153.47H516.20" stroke="#000" stroke-width="1.3" fill="none"/>
<path d="M521.65 97.81V133.95M517.85 97.81H525.45M517.85 133.95H525.45" stroke="#000" stroke-width="1.3" fill="none"/>
<path d="M530.90 97.81V133.95M527.10 97.81H534.70M527.10 133.95H534.70" stroke="#000" stroke-width="1.3" fill="none"/>
<path d="M540.15 82.63V107.93M536.35 82.63H543.95M536.35 107.93H543.95" stroke="#000" stroke-width="1.3" fill="none"/>
<path d="M549.40 79.38V101.06M545.60 79.38H553.20M545.60 101.06H553.20" stroke="#000" stroke-width="1.3" fill="none"/>
<path d="M558.65 71.43V89.50M554.85 71.43H562.45M554.85 89.50H562.45" stroke="#000" stroke-width="1.3" fill="none"/>
<path d="M567.90 71.43V89.50M564.10 71.43H571.70M564.10 89.50H571.70" stroke="#000" stroke-width="1.3" fill="none"/>
<path d="M577.15 71.43V89.50M573.35 71.43H580.95M573.35 89.50H580.95" stroke="#000" stroke-width="1.3" fill="none"/>
<path d="M586.40 71.43V89.50M582.60 71.43H590.20M582.60 89.50H590.20" stroke="#000" stroke-width="1.3" fill="none"/>
<path d="M595.65 69.62V91.30M591.85 69.62H599.45M591.85 91.30H599.45" stroke="#000" stroke-width="1.3" fill="none"/>
<path d="M604.90 69.62V91.30M601.10 69.62H608.70M601.10 91.30H608.70" stroke="#000" stroke-width="1.3" fill="none"/>
<path d="M614.15 76.85V102.15M610.35 76.85H617.95M610.35 102.15H617.95" stroke="#000" stroke-width="1.3" fill="none"/>
<path d="M623.40 71.43V96.73M619.60 71.43H627.20M619.60 96.73H627.20" stroke="#000" stroke-width="1.3" fill="none"/>
<path d="M632.65 75.76V104.68M628.85 75.76H636.45M628.85 104.68H636.45" stroke="#000" stroke-width="1.3" fill="none"/>
<path d="M641.90 84.44V106.12M638.10 84.44H645.70M638.10 106.12H645.70" stroke="#000" stroke-width="1.3" fill="none"/>
<path d="M651.15 89.14V110.82M647.35 89.14H654.95M647.35 110.82H654.95" stroke="#000" stroke-width="1.3" fill="none"/>
<path d="M660.40 89.14V110.82M656.60 89.14H664.20M656.60 110.82H664.20" stroke="#000" stroke-width="1.3" fill="none"/>
<circle cx="382.90" cy="224.30" r="3.95" fill="#fff" stroke="#000" stroke-width="1.5"/>
<circle cx="392.15" cy="224.30" r="3.95" fill="#fff" stroke="#000" stroke-width="1.5"/>
<circle cx="401.40" cy="224.30" r="3.95" fill="#fff" stroke="#000" stroke-width="1.5"/>
<circle cx="410.65" cy="224.30" r="3.95" fill="#fff" stroke="#000" stroke-width="1.5"/>
<circle cx="419.90" cy="224.30" r="3.95" fill="#fff" stroke="#000" stroke-width="1.5"/>
<circle cx="429.15" cy="224.30" r="3.95" fill="#fff" stroke="#000" stroke-width="1.5"/>
<circle cx="438.40" cy="224.30" r="3.95" fill="#fff" stroke="#000" stroke-width="1.5"/>
<circle cx="447.65" cy="224.30" r="3.95" fill="#fff" stroke="#000" stroke-width="1.5"/>
<circle cx="456.90" cy="224.30" r="3.95" fill="#fff" stroke="#000" stroke-width="1.5"/>
<circle cx="466.15" cy="224.30" r="3.95" fill="#fff" stroke="#000" stroke-width="1.5"/>
<circle cx="475.40" cy="205.87" r="3.95" fill="#fff" stroke="#000" stroke-width="1.5"/>
<circle cx="484.65" cy="169.01" r="3.95" fill="#fff" stroke="#000" stroke-width="1.5"/>
<circle cx="493.90" cy="157.08" r="3.95" fill="#fff" stroke="#000" stroke-width="1.5"/>
<circle cx="503.15" cy="151.30" r="3.95" fill="#fff" stroke="#000" stroke-width="1.5"/>
<circle cx="512.40" cy="135.40" r="3.95" fill="#fff" stroke="#000" stroke-width="1.5"/>
<circle cx="521.65" cy="115.88" r="3.95" fill="#fff" stroke="#000" stroke-width="1.5"/>
<circle cx="530.90" cy="115.88" r="3.95" fill="#fff" stroke="#000" stroke-width="1.5"/>
<circle cx="540.15" cy="95.28" r="3.95" fill="#fff" stroke="#000" stroke-width="1.5"/>
<circle cx="549.40" cy="90.22" r="3.95" fill="#fff" stroke="#000" stroke-width="1.5"/>
<circle cx="558.65" cy="80.46" r="3.95" fill="#fff" stroke="#000" stroke-width="1.5"/>
<circle cx="567.90" cy="80.46" r="3.95" fill="#fff" stroke="#000" stroke-width="1.5"/>
<circle cx="577.15" cy="80.46" r="3.95" fill="#fff" stroke="#000" stroke-width="1.5"/>
<circle cx="586.40" cy="80.46" r="3.95" fill="#fff" stroke="#000" stroke-width="1.5"/>
<circle cx="595.65" cy="80.46" r="3.95" fill="#fff" stroke="#000" stroke-width="1.5"/>
<circle cx="604.90" cy="80.46" r="3.95" fill="#fff" stroke="#000" stroke-width="1.5"/>
<circle cx="614.15" cy="89.50" r="3.95" fill="#fff" stroke="#000" stroke-width="1.5"/>
<circle cx="623.40" cy="84.08" r="3.95" fill="#fff" stroke="#000" stroke-width="1.5"/>
<circle cx="632.65" cy="90.22" r="3.95" fill="#fff" stroke="#000" stroke-width="1.5"/>
<circle cx="641.90" cy="95.28" r="3.95" fill="#fff" stroke="#000" stroke-width="1.5"/>
<circle cx="651.15" cy="99.98" r="3.95" fill="#fff" stroke="#000" stroke-width="1.5"/>
<circle cx="660.40" cy="99.98" r="3.95" fill="#fff" stroke="#000" stroke-width="1.5"/>
<path d="M168.4 110.6V116.8" stroke="#000" stroke-width="1.4"/>
<path d="M162.5 115.8L168.4 129.0L174.3 115.8L168.4 118.0Z" fill="#000" stroke="#000" stroke-width="0.4" stroke-linejoin="round"/>
<path d="M501.4 82.1V88.0" stroke="#000" stroke-width="1.4"/>
<path d="M495.4 87.0L501.4 100.4L507.4 87.0L501.4 89.2Z" fill="#000" stroke="#000" stroke-width="0.4" stroke-linejoin="round"/>
<path d="M200.2 101.3H306.6" stroke="#000" stroke-width="1.1"/>
<text x="252.0" y="98.0" font-size="14" text-anchor="middle">*</text>
<ellipse cx="72.4" cy="46.6" rx="4.75" ry="3.85" fill="#fff" stroke="#000" stroke-width="1.3"/>
<path d="M67.65 46.6H77.15" stroke="#000" stroke-width="1.2"/>
<ellipse cx="72.4" cy="61.3" rx="5.6" ry="4.9" fill="#000"/>
<path d="M72.4 70.1L77.9 78.6L66.9 78.6Z" fill="#000"/>
<text x="84.0" y="50.300000000000004" font-size="11" text-anchor="start" textLength="87.6" lengthAdjust="spacingAndGlyphs">LM-OVA Infection</text>
<text x="84.0" y="65.0" font-size="11" text-anchor="start" textLength="85.3" lengthAdjust="spacingAndGlyphs">LM-PLP Infection</text>
<text x="84.0" y="78.5" font-size="11" text-anchor="start" textLength="67.6" lengthAdjust="spacingAndGlyphs">Saline Control</text>
<ellipse cx="398.3" cy="47.4" rx="4.75" ry="3.85" fill="#fff" stroke="#000" stroke-width="1.3"/>
<path d="M393.55 47.4H403.05" stroke="#000" stroke-width="1.2"/>
<ellipse cx="398.3" cy="61.8" rx="5.6" ry="4.9" fill="#000"/>
<path d="M398.3 70.7L403.8 79.2L392.8 79.2Z" fill="#000"/>
<text x="410.8" y="51.1" font-size="11" text-anchor="start" textLength="87.6" lengthAdjust="spacingAndGlyphs">LM-OVA Infection</text>
<text x="410.8" y="65.5" font-size="11" text-anchor="start" textLength="85.3" lengthAdjust="spacingAndGlyphs">LM-PLP Infection</text>
<text x="410.8" y="79.10000000000001" font-size="11" text-anchor="start" textLength="67.6" lengthAdjust="spacingAndGlyphs">Saline Control</text>
<rect x="22.4" y="277.0" width="319.6" height="77.80000000000001" fill="none" stroke="#000" stroke-width="1.8"/>
<path d="M86.2 277.0V354.8" stroke="#000" stroke-width="1.8"/>
<path d="M150.1 277.0V354.8" stroke="#000" stroke-width="1.8"/>
<path d="M214.5 277.0V354.8" stroke="#000" stroke-width="1.8"/>
<path d="M278.8 277.0V354.8" stroke="#000" stroke-width="1.8"/>
<path d="M22.4 296.2H342.0" stroke="#000" stroke-width="1.8"/>
<path d="M22.4 315.6H342.0" stroke="#000" stroke-width="1.8"/>
<path d="M22.4 335.1H342.0" stroke="#000" stroke-width="1.8"/>
<text x="54.30" y="290.60" font-size="12" text-anchor="middle" textLength="53.6" lengthAdjust="spacingAndGlyphs">Treatment</text>
<text x="118.15" y="290.60" font-size="12" text-anchor="middle">Onset</text>
<text x="182.30" y="290.60" font-size="12" text-anchor="middle">Peak</text>
<text x="246.65" y="290.60" font-size="12" text-anchor="middle">Mortality</text>
<text x="310.40" y="290.60" font-size="12" text-anchor="middle">CDI**</text>
<text x="54.30" y="309.80" font-size="12" text-anchor="middle">LM-OVA</text>
<text x="118.15" y="309.80" font-size="12" text-anchor="middle"><tspan class="h">1</tspan>0.5 ± 0.4</text>
<text x="182.30" y="309.80" font-size="12" text-anchor="middle">3.3 ± 0.2</text>
<text x="246.65" y="309.80" font-size="12" text-anchor="middle"><tspan class="h">1</tspan>/2<tspan class="h">1</tspan></text>
<text x="310.40" y="309.80" font-size="12" text-anchor="middle">5<tspan class="h">1</tspan>.5 ± 3.7</text>
<text x="54.30" y="329.20" font-size="12" text-anchor="middle">LM-PLP</text>
<text x="118.15" y="329.20" font-size="12" text-anchor="middle"><tspan class="h">1</tspan>0.5 ± 0.5</text>
<text x="182.30" y="329.20" font-size="12" text-anchor="middle">2.7 ± 0.2</text>
<text x="246.65" y="329.20" font-size="12" text-anchor="middle">0/2<tspan class="h">1</tspan></text>
<text x="310.40" y="329.20" font-size="12" text-anchor="middle">38.3 ± 2.9</text>
<text x="54.30" y="348.70" font-size="12" text-anchor="middle">Saline</text>
<text x="118.15" y="348.70" font-size="12" text-anchor="middle"><tspan class="h">1</tspan>0.9 ± 0.5</text>
<text x="182.30" y="348.70" font-size="12" text-anchor="middle">3.4 ± 0.<tspan class="h">1</tspan></text>
<text x="246.65" y="348.70" font-size="12" text-anchor="middle">0/20</text>
<text x="310.40" y="348.70" font-size="12" text-anchor="middle">49.9 ± 2.6</text>
<rect x="352.2" y="277.0" width="320.3" height="77.80000000000001" fill="none" stroke="#000" stroke-width="1.8"/>
<path d="M416.3 277.0V354.8" stroke="#000" stroke-width="1.8"/>
<path d="M479.8 277.0V354.8" stroke="#000" stroke-width="1.8"/>
<path d="M544.5 277.0V354.8" stroke="#000" stroke-width="1.8"/>
<path d="M608.3 277.0V354.8" stroke="#000" stroke-width="1.8"/>
<path d="M352.2 296.2H672.5" stroke="#000" stroke-width="1.8"/>
<path d="M352.2 315.6H672.5" stroke="#000" stroke-width="1.8"/>
<path d="M352.2 335.1H672.5" stroke="#000" stroke-width="1.8"/>
<text x="384.25" y="290.60" font-size="12" text-anchor="middle" textLength="53.6" lengthAdjust="spacingAndGlyphs">Treatment</text>
<text x="448.05" y="290.60" font-size="12" text-anchor="middle">Onset</text>
<text x="512.15" y="290.60" font-size="12" text-anchor="middle">Peak</text>
<text x="576.40" y="290.60" font-size="12" text-anchor="middle">Mortality</text>
<text x="640.40" y="290.60" font-size="12" text-anchor="middle">CDI</text>
<text x="384.25" y="309.80" font-size="12" text-anchor="middle">LM-OVA</text>
<text x="448.05" y="309.80" font-size="12" text-anchor="middle"><tspan class="h">1</tspan>0.8 ± 0.3</text>
<text x="512.15" y="309.80" font-size="12" text-anchor="middle">4.<tspan class="h">1</tspan> ± 0.3</text>
<text x="576.40" y="309.80" font-size="12" text-anchor="middle">2/7</text>
<text x="640.40" y="309.80" font-size="12" text-anchor="middle">67.0 ± 6.0</text>
<text x="384.25" y="329.20" font-size="12" text-anchor="middle">LM-PLP</text>
<text x="448.05" y="329.20" font-size="12" text-anchor="middle"><tspan class="h">1</tspan>0.6 ± 0.3</text>
<text x="512.15" y="329.20" font-size="12" text-anchor="middle">3.9 ± 0.3</text>
<text x="576.40" y="329.20" font-size="12" text-anchor="middle"><tspan class="h">1</tspan>/7</text>
<text x="640.40" y="329.20" font-size="12" text-anchor="middle">66.3 ± 7.0</text>
<text x="384.25" y="348.70" font-size="12" text-anchor="middle">Saline</text>
<text x="448.05" y="348.70" font-size="12" text-anchor="middle"><tspan class="h">1</tspan>0.4 ± 0.2</text>
<text x="512.15" y="348.70" font-size="12" text-anchor="middle">4.0 ± 0.3</text>
<text x="576.40" y="348.70" font-size="12" text-anchor="middle">2/7</text>
<text x="640.40" y="348.70" font-size="12" text-anchor="middle">67.<tspan class="h">1</tspan> ± 8.5</text>
<path transform="translate(40.61 195.30) scale(0.00586 -0.00586)" d="M763 0H583V1100Q518 1040 412 982T223 893V1062Q374 1132 487 1228T647 1409H763Z" stroke="#000" stroke-width="37.5"/>
<path transform="translate(136.61 246.00) scale(0.00586 -0.00586)" d="M763 0H583V1100Q518 1040 412 982T223 893V1062Q374 1132 487 1228T647 1409H763Z" stroke="#000" stroke-width="37.5"/>
<path transform="translate(176.61 246.00) scale(0.00586 -0.00586)" d="M763 0H583V1100Q518 1040 412 982T223 893V1062Q374 1132 487 1228T647 1409H763Z" stroke="#000" stroke-width="37.5"/>
<path transform="translate(367.51 195.02) scale(0.00586 -0.00586)" d="M763 0H583V1100Q518 1040 412 982T223 893V1062Q374 1132 487 1228T647 1409H763Z" stroke="#000" stroke-width="37.5"/>
<path transform="translate(469.41 246.00) scale(0.00586 -0.00586)" d="M763 0H583V1100Q518 1040 412 982T223 893V1062Q374 1132 487 1228T647 1409H763Z" stroke="#000" stroke-width="37.5"/>
<path transform="translate(515.66 246.00) scale(0.00586 -0.00586)" d="M763 0H583V1100Q518 1040 412 982T223 893V1062Q374 1132 487 1228T647 1409H763Z" stroke="#000" stroke-width="37.5"/>
<path transform="translate(91.49 309.80) scale(0.00586 -0.00586)" d="M763 0H583V1100Q518 1040 412 982T223 893V1062Q374 1132 487 1228T647 1409H763Z" stroke="#000" stroke-width="37.5"/>
<path transform="translate(234.95 309.80) scale(0.00586 -0.00586)" d="M763 0H583V1100Q518 1040 412 982T223 893V1062Q374 1132 487 1228T647 1409H763Z" stroke="#000" stroke-width="37.5"/>
<path transform="translate(251.66 309.80) scale(0.00586 -0.00586)" d="M763 0H583V1100Q518 1040 412 982T223 893V1062Q374 1132 487 1228T647 1409H763Z" stroke="#000" stroke-width="37.5"/>
<path transform="translate(290.42 309.80) scale(0.00586 -0.00586)" d="M763 0H583V1100Q518 1040 412 982T223 893V1062Q374 1132 487 1228T647 1409H763Z" stroke="#000" stroke-width="37.5"/>
<path transform="translate(91.49 329.20) scale(0.00586 -0.00586)" d="M763 0H583V1100Q518 1040 412 982T223 893V1062Q374 1132 487 1228T647 1409H763Z" stroke="#000" stroke-width="37.5"/>
<path transform="translate(251.65 329.20) scale(0.00586 -0.00586)" d="M763 0H583V1100Q518 1040 412 982T223 893V1062Q374 1132 487 1228T647 1409H763Z" stroke="#000" stroke-width="37.5"/>
<path transform="translate(91.49 348.70) scale(0.00586 -0.00586)" d="M763 0H583V1100Q518 1040 412 982T223 893V1062Q374 1132 487 1228T647 1409H763Z" stroke="#000" stroke-width="37.5"/>
<path transform="translate(198.93 348.70) scale(0.00586 -0.00586)" d="M763 0H583V1100Q518 1040 412 982T223 893V1062Q374 1132 487 1228T647 1409H763Z" stroke="#000" stroke-width="37.5"/>
<path transform="translate(421.39 309.80) scale(0.00586 -0.00586)" d="M763 0H583V1100Q518 1040 412 982T223 893V1062Q374 1132 487 1228T647 1409H763Z" stroke="#000" stroke-width="37.5"/>
<path transform="translate(498.85 309.80) scale(0.00586 -0.00586)" d="M763 0H583V1100Q518 1040 412 982T223 893V1062Q374 1132 487 1228T647 1409H763Z" stroke="#000" stroke-width="37.5"/>
<path transform="translate(421.39 329.20) scale(0.00586 -0.00586)" d="M763 0H583V1100Q518 1040 412 982T223 893V1062Q374 1132 487 1228T647 1409H763Z" stroke="#000" stroke-width="37.5"/>
<path transform="translate(568.05 329.20) scale(0.00586 -0.00586)" d="M763 0H583V1100Q518 1040 412 982T223 893V1062Q374 1132 487 1228T647 1409H763Z" stroke="#000" stroke-width="37.5"/>
<path transform="translate(421.39 348.70) scale(0.00586 -0.00586)" d="M763 0H583V1100Q518 1040 412 982T223 893V1062Q374 1132 487 1228T647 1409H763Z" stroke="#000" stroke-width="37.5"/>
<path transform="translate(630.43 348.70) scale(0.00586 -0.00586)" d="M763 0H583V1100Q518 1040 412 982T223 893V1062Q374 1132 487 1228T647 1409H763Z" stroke="#000" stroke-width="37.5"/>
</svg>
</body></html>
